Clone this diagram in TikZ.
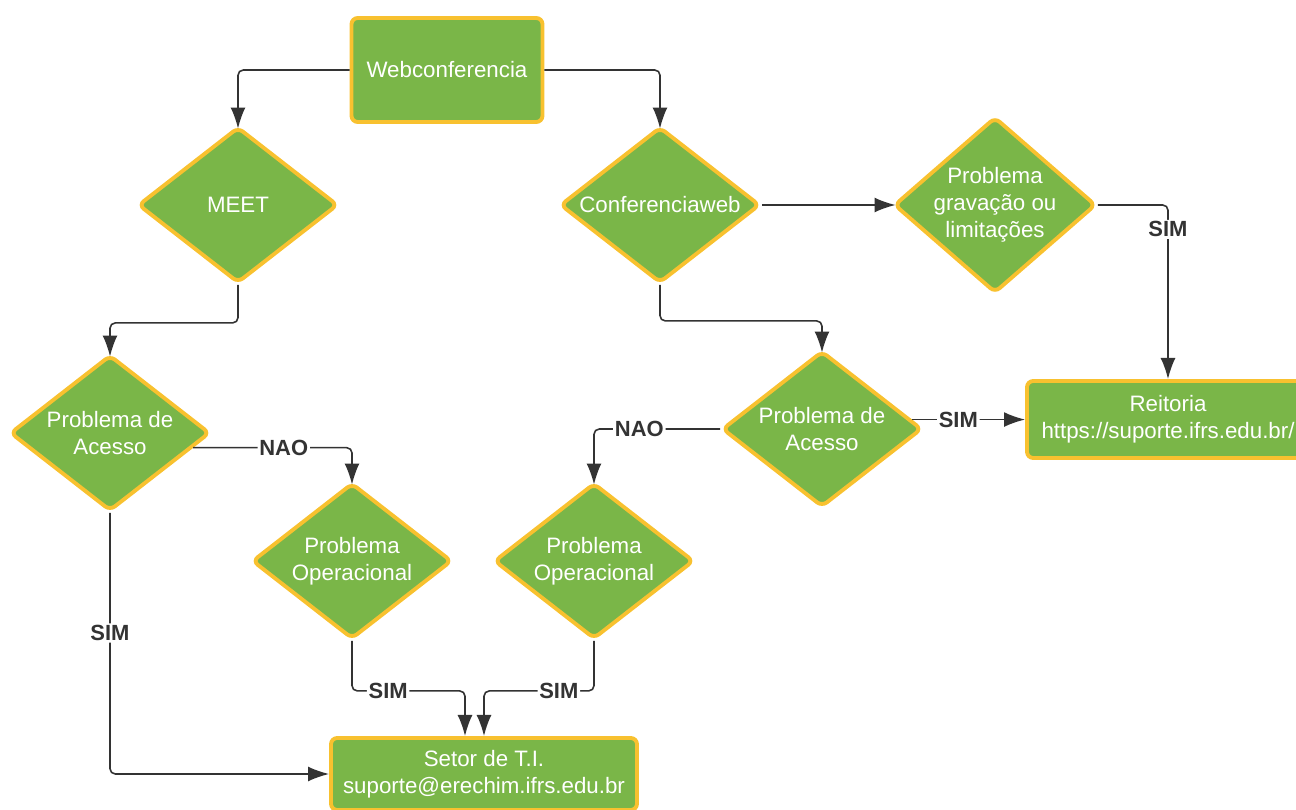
\documentclass[tikz,border=0pt]{standalone}
\usepackage{fontspec}
\setmainfont{Liberation Sans}
\usetikzlibrary{shapes.geometric,arrows.meta}
\definecolor{boxgreen}{HTML}{7AB648}
\definecolor{boxrim}{HTML}{F8C12F}
\definecolor{linegray}{HTML}{333333}
\tikzset{every node/.style={align=center}, >={Latex[length=12pt,width=8.5pt]}, font=\fontsize{12.7}{15.3}\selectfont}
\tikzset{
  box/.style={rectangle, rounded corners=3.5pt, draw=boxrim, line width=2.2pt, fill=boxgreen, text=white, inner sep=2pt},
  choice/.style={diamond, aspect=1.28, rounded corners=3.5pt, draw=boxrim, line width=2.2pt, fill=boxgreen, text=white, inner sep=0pt, minimum width=4cm, minimum height=3.12cm},
  flow/.style={->, draw=linegray, line width=0.9pt, rounded corners=3pt},
  answer/.style={fill=white, text=linegray, font=\fontsize{12.5}{15}\selectfont\bfseries, inner sep=1pt}
}

\begin{document}
\begin{tikzpicture}[x=0.02cm, y=-0.02cm]
            \useasboundingbox (0,0) rectangle (1296,810);
            \node [box, minimum width=3.82cm, minimum height=2.08cm] (web) at (447,70) {Webconferencia};
            \node [choice] (meet) at (238,205) {MEET};
            \node [choice] (conf) at (660,205) {Conferenciaweb};
            \node [choice, aspect=1.15, minimum width=4.04cm, minimum height=3.52cm, inner sep=-2pt] (grav) at (995,205) {Problema\\gravação ou\\limitações};
            \node [choice] (acl) at (110,433) {Problema de\\Acesso};
            \node [choice] (acr) at (822,429) {Problema de\\Acesso};
            \node [choice] (opl) at (352,561) {Problema\\Operacional};
            \node [choice] (opr) at (594,561) {Problema\\Operacional};
            \node [box, minimum width=5.64cm, minimum height=1.54cm] (rei) at (1168,419.5) {Reitoria\\https://suporte.ifrs.edu.br/};
            \node [box, minimum width=6.12cm, minimum height=1.44cm] (ti) at (484,774) {Setor de T.I.\\suporte@erechim.ifrs.edu.br};

            \draw [flow] (web.west) -| ([yshift=-2pt]meet.north);
            \draw [flow] (web.east) -| ([yshift=-2pt]conf.north);
            \draw [flow] (conf.east) -- ([xshift=2pt]grav.west);
            \draw [flow] (grav.east) -| node [answer, pos=0.57] {SIM} (rei.north);
            \draw [flow] (meet.south) -- ++(0,38) -| ([yshift=-2pt]acl.north);
            \draw [flow] (conf.south) -- ++(0,36) -| ([yshift=-2pt]acr.north);
            \draw [flow] (acl.-10) -| node [answer, pos=0.285] {NAO} ([yshift=-2pt]opl.north);
            \draw [flow] (acr.west) -| node [answer, pos=0.32] {NAO} ([yshift=-2pt]opr.north);
            \draw [flow] (acr.6) -- node [answer, pos=0.41] {SIM} (acr.6 -| rei.west);
            \draw [flow] (acl.south) |- node [answer, pos=0.23] {SIM} (ti.west);
            \draw [flow] (opl.south) -- ++(0,50) -| node [answer, pos=0.16] {SIM} ([xshift=-0.38cm]ti.north);
            \draw [flow] (opr.south) -- ++(0,50) -| node [answer, pos=0.16] {SIM} (ti.north);
        \end{tikzpicture}
\end{document}
